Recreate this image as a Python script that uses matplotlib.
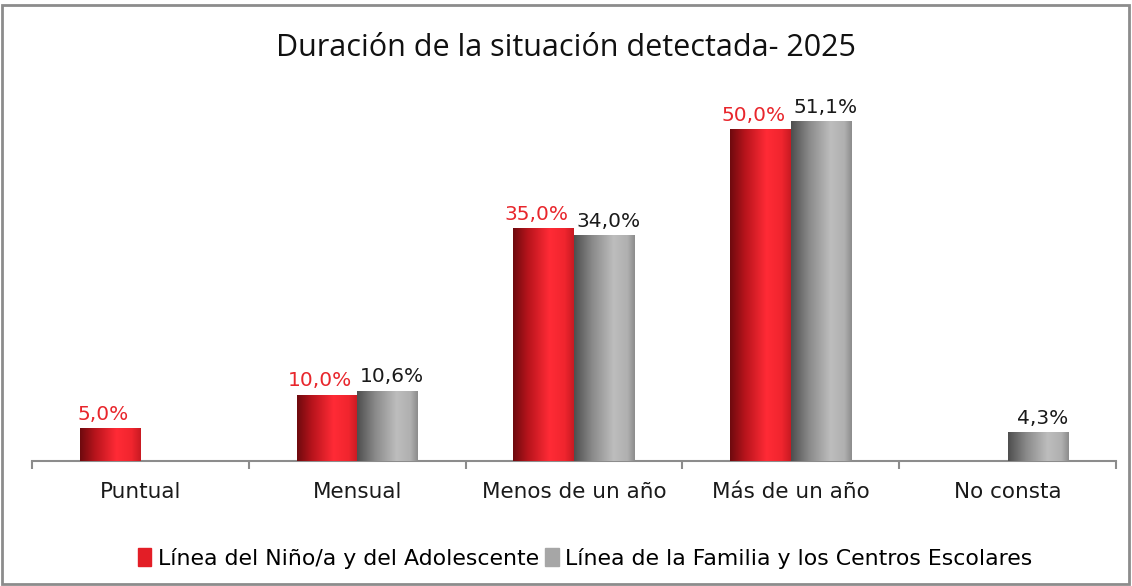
"""
Duracion de la situacion detectada - 2025
"""

import matplotlib.pyplot as plt
import numpy as np
from matplotlib.colors import LinearSegmentedColormap
from matplotlib.patches import Rectangle

categories = ['Puntual', 'Mensual', 'Menos de un año', 'Más de un año', 'No consta']
nino = [5.0, 10.0, 35.0, 50.0, None]
familia = [None, 10.6, 34.0, 51.1, 4.3]
series_names = ['Línea del Niño/a y del Adolescente',
                'Línea de la Familia y los Centros Escolares']

plt.rcParams['font.family'] = ['DejaVu Sans']

red_cmap = LinearSegmentedColormap.from_list(
    'red3d', [(0, '#6e0a0e'), (0.25, '#b8141c'), (0.6, '#ff2b36'), (0.85, '#f0252e'), (1, '#c81a22')])
grey_cmap = LinearSegmentedColormap.from_list(
    'grey3d', [(0, '#4e4e4e'), (0.3, '#8a8a8a'), (0.65, '#bdbdbd'), (0.88, '#b0b0b0'), (1, '#8c8c8c')])

fig = plt.figure(figsize=(11.32, 5.86), dpi=100)
ax = fig.add_axes([0.0283, 0.2133, 0.9576, 0.635])

x = np.arange(len(categories))
w = 0.28
v1 = [v if v is not None else 0 for v in nino]
v2 = [v if v is not None else 0 for v in familia]
bars1 = ax.bar(x - w / 2, v1, w, color='#e31e26', label=series_names[0], zorder=2)
bars2 = ax.bar(x + w / 2, v2, w, color='#a6a6a6', label=series_names[1], zorder=2)

grad = np.linspace(0, 1, 256).reshape(1, -1)
for bars, cmap, vals in [(bars1, red_cmap, nino), (bars2, grey_cmap, familia)]:
    for b, v in zip(bars, vals):
        if v is None:
            b.set_visible(False)
            continue
        x0, h, bw = b.get_x(), b.get_height(), b.get_width()
        im = ax.imshow(grad, cmap=cmap, aspect='auto', extent=(x0, x0 + bw, 0, h), zorder=3)
        im.set_clip_path(b)
        b.set_alpha(0)

for i in range(len(categories)):
    if nino[i] is not None:
        ax.annotate(f'{nino[i]:.1f}%'.replace('.', ','), (x[i] - w / 2, nino[i]),
                    xytext=(-5, 3), textcoords='offset points', ha='center', va='bottom',
                    color='#e8262c', fontsize=14.5)
    if familia[i] is not None:
        ax.annotate(f'{familia[i]:.1f}%'.replace('.', ','), (x[i] + w / 2, familia[i]),
                    xytext=(3, 3), textcoords='offset points', ha='center', va='bottom',
                    color='#1a1a1a', fontsize=14.5)

ax.set_xlim(-0.5, len(categories) - 0.5)
ax.set_ylim(0, 56)
ax.set_yticks([])
for s in ['top', 'right', 'left']:
    ax.spines[s].set_visible(False)
ax.spines['bottom'].set_color('#8c8c8c')
ax.spines['bottom'].set_linewidth(1.5)
ax.set_xticks(x)
ax.set_xticklabels(categories, fontsize=15.5, color='#1a1a1a')
ax.tick_params(axis='x', which='major', length=0, pad=15)
ax.set_xticks(np.arange(-0.5, len(categories)), minor=True)
ax.tick_params(axis='x', which='minor', length=6, width=1.5, color='#8c8c8c')
ax.set_facecolor('none')

fig.text(0.5, 0.918, 'Duración de la situación detectada- 2025', ha='center', va='center',
         fontsize=22, fontfamily=['Open Sans', 'DejaVu Sans'], color='#111111')

handles = [Rectangle((0, 0), 1, 1, color='#e31e26'), Rectangle((0, 0), 1, 1, color='#a6a6a6')]
fig.legend(handles, series_names, loc='center', bbox_to_anchor=(0.517, 0.047), ncol=2,
           frameon=False, fontsize=15.8, handlelength=0.6, handleheight=0.9,
           handletextpad=0.3, columnspacing=0.3)

fig.patches.append(Rectangle((0.002, 0.004), 0.995, 0.988, transform=fig.transFigure,
                             fill=False, edgecolor='#8c8c8c', linewidth=2))

fig.savefig('out.png', dpi=100)
